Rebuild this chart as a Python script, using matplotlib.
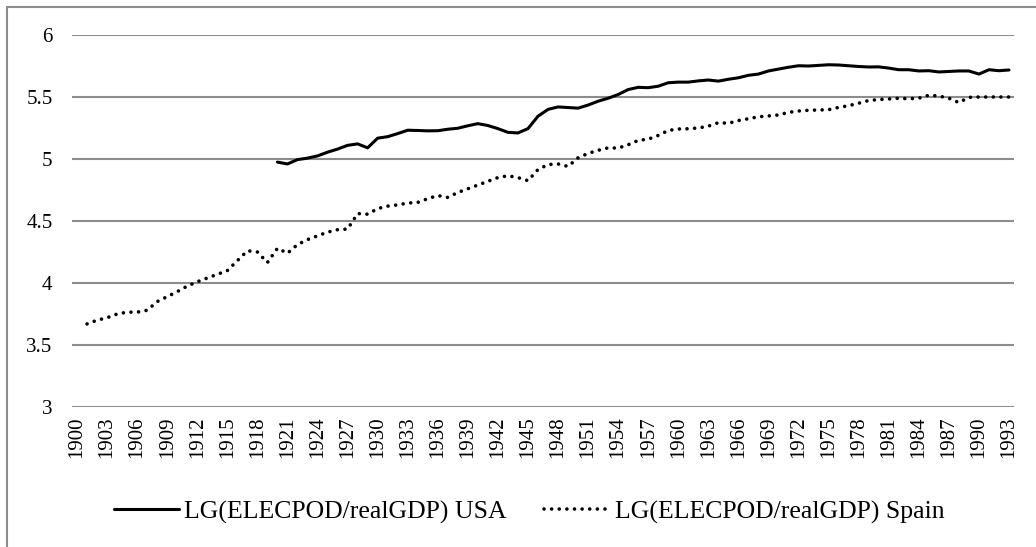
import matplotlib
matplotlib.use("Agg")
import matplotlib.pyplot as plt
from matplotlib.patches import Rectangle

years = list(range(1900, 1994))

usa_years = list(range(1920, 1994))
usa_values = [4.975, 4.96, 4.995, 5.007, 5.025, 5.055, 5.08, 5.11, 5.122, 5.09,
              5.168, 5.18, 5.205, 5.232, 5.23, 5.227, 5.228, 5.24, 5.248, 5.268,
              5.285, 5.27, 5.245, 5.215, 5.21, 5.245, 5.345, 5.40, 5.42, 5.415,
              5.41, 5.435, 5.466, 5.49, 5.52, 5.56, 5.578, 5.575, 5.587, 5.615,
              5.62, 5.62, 5.63, 5.637, 5.628, 5.643, 5.655, 5.675, 5.685, 5.71,
              5.725, 5.74, 5.752, 5.75, 5.755, 5.76, 5.758, 5.752, 5.746, 5.742,
              5.743, 5.733, 5.72, 5.72, 5.71, 5.712, 5.702, 5.706, 5.71, 5.71,
              5.685, 5.72, 5.712, 5.718]

spain_years = list(range(1901, 1994))
spain_values = [3.67, 3.70, 3.72, 3.75, 3.765, 3.765, 3.78, 3.85, 3.89, 3.93,
                3.975, 4.01, 4.04, 4.07, 4.10, 4.18, 4.26, 4.25, 4.165, 4.28,
                4.24, 4.31, 4.35, 4.38, 4.41, 4.43, 4.435, 4.56, 4.555, 4.60,
                4.62, 4.63, 4.645, 4.65, 4.68, 4.705, 4.69, 4.73, 4.76, 4.79,
                4.82, 4.85, 4.865, 4.85, 4.825, 4.915, 4.955, 4.96, 4.94, 5.01,
                5.045, 5.07, 5.09, 5.088, 5.115, 5.15, 5.16, 5.19, 5.23, 5.242,
                5.244, 5.25, 5.265, 5.293, 5.288, 5.31, 5.325, 5.34, 5.347, 5.355,
                5.376, 5.387, 5.393, 5.395, 5.398, 5.416, 5.43, 5.45, 5.472, 5.479,
                5.484, 5.49, 5.486, 5.49, 5.514, 5.508, 5.49, 5.455, 5.497, 5.50,
                5.50, 5.50, 5.50]

y_ticks = [3, 3.5, 4, 4.5, 5, 5.5, 6]
y_labels = ["3", "3.5", "4", "4.5", "5", "5.5", "6"]
x_tick_years = list(range(1900, 1994, 3))

usa_label = "LG(ELECPOD/realGDP) USA"
spain_label = "LG(ELECPOD/realGDP) Spain"

plt.rcParams['font.family'] = ['Liberation Serif', 'DejaVu Serif']

W, H = 1036, 547
fig = plt.figure(figsize=(W / 100, H / 100), dpi=100)
ax = fig.add_axes([72 / W, 1 - 407 / H, (1014 - 72) / W, (407 - 35) / H])

idx = {y: i for i, y in enumerate(years)}
ax.plot([idx[y] for y in usa_years], usa_values, color='black', lw=2.2,
        solid_joinstyle='round', solid_capstyle='round', label=usa_label)
ax.plot([idx[y] for y in spain_years], spain_values, color='black', lw=2.6,
        linestyle=(0, (0.01, 2.1)), dash_capstyle='round', label=spain_label)

ax.set_ylim(3, 6)
ax.set_xlim(-0.5, len(years) - 0.5)
ax.set_yticks(y_ticks)
ax.set_yticklabels(y_labels)
ax.set_xticks([idx[y] for y in x_tick_years])
ax.set_xticklabels([str(y) for y in x_tick_years], rotation=90)
ax.tick_params(axis='both', length=0, labelsize=15, labelcolor='black')
ax.tick_params(axis='y', pad=14)
ax.tick_params(axis='x', pad=7)
for s in ax.spines.values():
    s.set_visible(False)
ax.yaxis.grid(True, color='#8c8c8c', lw=1.5)
ax.set_axisbelow(True)

fig.legend(loc='center', bbox_to_anchor=(529 / W, 1 - 512 / H), ncol=2,
           frameon=False, fontsize=18.5, handlelength=2.55, columnspacing=1.45,
           handletextpad=0.2)

fig.patches.append(Rectangle((7 / W, -0.1), 1.2, 1 - 7 / H + 0.1,
                             transform=fig.transFigure, fill=False,
                             edgecolor='#8c8c8c', lw=1.5))

fig.savefig("out.png", dpi=100)
